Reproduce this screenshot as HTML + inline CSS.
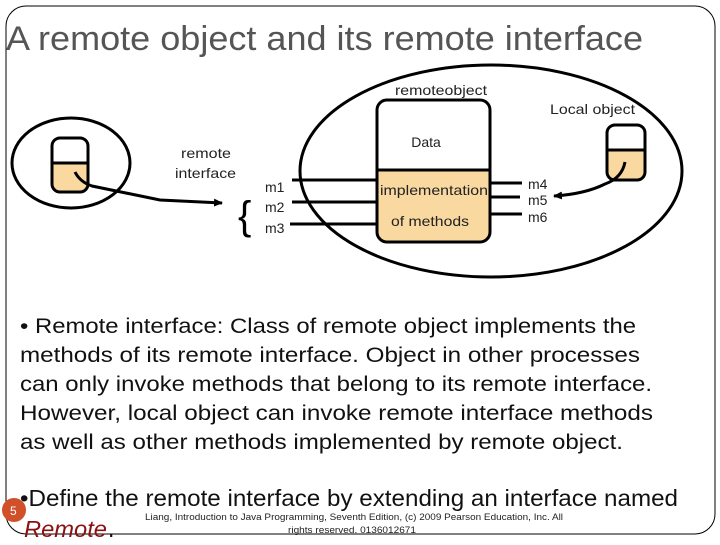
<!DOCTYPE html>
<html><head><style>
body{margin:0;width:720px;height:540px;overflow:hidden;background:#fff;font-family:"Liberation Sans",sans-serif;}
</style></head><body>
<svg width="720" height="540" xmlns="http://www.w3.org/2000/svg" font-family="Liberation Sans, sans-serif">
<defs><marker id="ar" markerWidth="9" markerHeight="8" refX="8" refY="4" orient="auto" markerUnits="userSpaceOnUse"><path d="M0,0 L9,4 L0,8 z" fill="#000"/></marker></defs>
<rect x="6" y="6" width="709" height="528" rx="20" fill="none" stroke="#000" stroke-width="1"/>
<text x="6" y="50" font-size="34" fill="#555" textLength="637" lengthAdjust="spacingAndGlyphs">A remote object and its remote interface</text>
<ellipse cx="491" cy="171" rx="191" ry="106" fill="none" stroke="#000" stroke-width="3"/>
<ellipse cx="71" cy="163" rx="59" ry="45" fill="none" stroke="#000" stroke-width="3"/>
<path d="M52,163 H88 V184 a8,8 0 0 1 -8,8 H60 a8,8 0 0 1 -8,-8 z" fill="#f9d9a0"/>
<rect x="52" y="138" width="36" height="54" rx="8" fill="none" stroke="#000" stroke-width="3"/>
<line x1="52" y1="163" x2="88" y2="163" stroke="#000" stroke-width="3"/>
<path d="M75,172 Q80,182 92,186 L160,200 L222,203" fill="none" stroke="#000" stroke-width="3" marker-end="url(#ar)"/>
<text x="181" y="158" font-size="14" fill="#222" textLength="50" lengthAdjust="spacingAndGlyphs">remote</text>
<text x="175" y="178" font-size="14" fill="#222" textLength="61" lengthAdjust="spacingAndGlyphs">interface</text>
<text x="238" y="229" font-size="40" fill="#000">{</text>
<text x="265" y="192" font-size="14" fill="#222">m1</text>
<text x="265" y="212" font-size="14" fill="#222">m2</text>
<text x="265" y="233" font-size="14" fill="#222">m3</text>
<g stroke="#000" stroke-width="3">
<line x1="292" y1="180" x2="378" y2="180"/><line x1="292" y1="202" x2="378" y2="202"/><line x1="290" y1="224" x2="378" y2="224"/>
<line x1="490" y1="183" x2="522" y2="183"/><line x1="490" y1="197" x2="520" y2="197"/><line x1="490" y1="214" x2="522" y2="214"/>
</g>
<path d="M377,170 H490 V232 a10,10 0 0 1 -10,10 H387 a10,10 0 0 1 -10,-10 z" fill="#f9d9a0"/>
<rect x="377" y="100" width="113" height="142" rx="10" fill="none" stroke="#000" stroke-width="3"/>
<line x1="377" y1="170" x2="490" y2="170" stroke="#000" stroke-width="3"/>
<text x="395" y="95" font-size="14" fill="#222" textLength="92" lengthAdjust="spacingAndGlyphs">remoteobject</text>
<text x="426" y="147" font-size="14" text-anchor="middle" fill="#222">Data</text>
<text x="380" y="195" font-size="14" fill="#222" textLength="108" lengthAdjust="spacingAndGlyphs">implementation</text>
<text x="391" y="226" font-size="14" fill="#222" textLength="78" lengthAdjust="spacingAndGlyphs">of methods</text>
<text x="528" y="189" font-size="14" fill="#222">m4</text>
<text x="528" y="205" font-size="14" fill="#222">m5</text>
<text x="528" y="222" font-size="14" fill="#222">m6</text>
<text x="550" y="114" font-size="14" fill="#222" textLength="85" lengthAdjust="spacingAndGlyphs">Local object</text>
<path d="M607,150 H645 V172 a8,8 0 0 1 -8,8 H615 a8,8 0 0 1 -8,-8 z" fill="#f9d9a0"/>
<rect x="607" y="125" width="38" height="55" rx="8" fill="none" stroke="#000" stroke-width="3"/>
<line x1="607" y1="150" x2="645" y2="150" stroke="#000" stroke-width="3"/>
<path d="M625,162 Q622,178 605,184 Q585,194 554,196" fill="none" stroke="#000" stroke-width="3" marker-end="url(#ar)"/>
<g font-size="21" fill="#111" lengthAdjust="spacingAndGlyphs">
<text x="20" y="333" textLength="616" lengthAdjust="spacingAndGlyphs">• Remote interface: Class of remote object implements the</text>
<text x="20" y="362" textLength="620" lengthAdjust="spacingAndGlyphs">methods of its remote interface. Object in other processes</text>
<text x="20" y="391" textLength="632" lengthAdjust="spacingAndGlyphs">can only invoke methods that belong to its remote interface.</text>
<text x="20" y="420" textLength="633" lengthAdjust="spacingAndGlyphs">However, local object can invoke remote interface methods</text>
<text x="20" y="449" textLength="603" lengthAdjust="spacingAndGlyphs">as well as other methods implemented by remote object.</text>
</g>
<circle cx="14" cy="510" r="12" fill="#d0502a"/>
<text x="10" y="515" font-size="12" fill="#fff">5</text>
<text x="20" y="506" font-size="23" fill="#111" textLength="658" lengthAdjust="spacingAndGlyphs">•Define the remote interface by extending an interface named</text>
<text x="24" y="537" font-size="23" font-style="italic" fill="#8b1010" textLength="83" lengthAdjust="spacingAndGlyphs">Remote</text><text x="108" y="537" font-size="23" fill="#111">.</text>
<text x="145" y="520" font-size="9" fill="#222" textLength="418" lengthAdjust="spacingAndGlyphs">Liang, Introduction to Java Programming, Seventh Edition, (c) 2009 Pearson Education, Inc. All</text>
<text x="288" y="533" font-size="9" fill="#222" textLength="128" lengthAdjust="spacingAndGlyphs">rights reserved. 0136012671</text>
</svg>
</body></html>
